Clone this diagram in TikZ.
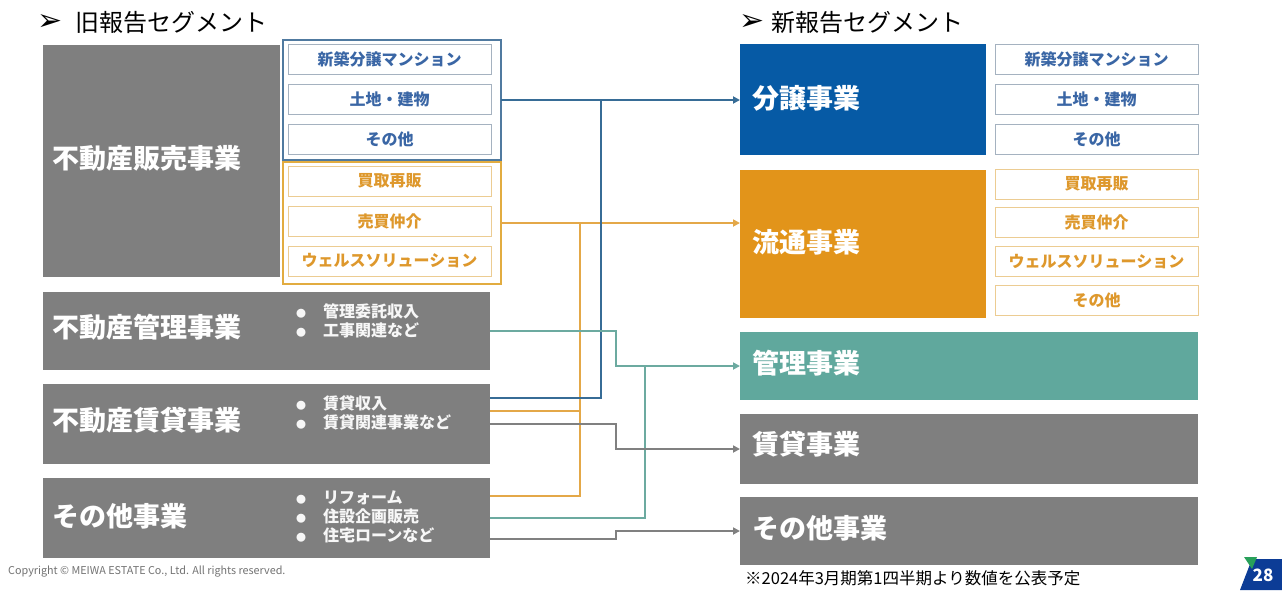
\documentclass[tikz,border=0pt]{standalone}
\usepackage{fontspec}
\setmainfont{Noto Sans CJK JP}
\newfontfamily\jp{Noto Sans CJK JP}
\newfontfamily\dvs{DejaVu Sans}
\usetikzlibrary{arrows.meta,calc}
\definecolor{grayfill}{RGB}{127,127,127}
\definecolor{bunjoblue}{RGB}{6,90,165}
\definecolor{ryuorange}{RGB}{226,148,26}
\definecolor{kanriteal}{RGB}{96,168,157}
\definecolor{blueline}{RGB}{55,108,150}
\definecolor{orangeline}{RGB}{228,168,72}
\definecolor{tealline}{RGB}{108,170,160}
\definecolor{grayline}{RGB}{128,128,128}
\definecolor{bluegrp}{RGB}{80,122,160}
\definecolor{orangegrp}{RGB}{226,172,64}
\definecolor{bluesubdraw}{RGB}{165,178,192}
\definecolor{orangesubdraw}{RGB}{236,204,146}
\definecolor{bluetext}{RGB}{58,102,165}
\definecolor{orangetext}{RGB}{222,152,44}
\definecolor{badgeblue}{RGB}{12,60,150}
\definecolor{badgegreen}{RGB}{40,160,90}
\newcommand{\blt}{\makebox[27pt][l]{\fontsize{10}{10}\selectfont ●}}
\begin{document}
\begin{tikzpicture}[x=1pt,y=-1pt,
  rbox/.style={inner sep=0pt,outer sep=0pt},
  graybox/.style={rbox,fill=grayfill},
  bigtext/.style={inner sep=0pt,anchor=west,text=white,font=\jp\bfseries\fontsize{27}{30}\selectfont},
  subblue/.style={rbox,draw=bluesubdraw,line width=1pt,fill=white,minimum width=203,minimum height=30,text=bluetext,font=\jp\bfseries\fontsize{16}{18}\selectfont},
  suborange/.style={rbox,draw=orangesubdraw,line width=1pt,fill=white,minimum width=203,minimum height=30,text=orangetext,font=\jp\bfseries\fontsize{16}{18}\selectfont},
  bul/.style={inner sep=0pt,anchor=west,align=left,text=white!94!gray,font=\jp\bfseries\fontsize{16}{19}\selectfont},
  conn/.style={line width=1.8pt},
  arr/.style={-{Triangle[length=7pt,width=7pt]}},
  titletext/.style={inner sep=0pt,anchor=west,font=\jp\fontsize{24}{28}\selectfont},
  arrowmark/.style={inner sep=0pt,anchor=center,font=\dvs\fontsize{30}{32}\selectfont}
]
\useasboundingbox[fill=white] (0,0) rectangle (1282,590);

% titles
\node[arrowmark] (am1) at (50,22) {➢};
\node[titletext] (title1) at (75,22) {旧報告セグメント};
\node[arrowmark] (am2) at (752,22) {➢};
\node[titletext] (title2) at (771,22) {新報告セグメント};

% left side
\node[graybox,minimum width=237,minimum height=232] (box1) at (161.5,161) {};
\node[bigtext] (t1) at (52,158) {不動産販売事業};

\node[rbox,draw=bluegrp,line width=1.5pt,minimum width=218,minimum height=120] (bgrp) at (392,100) {};
\node[subblue] (lb1) at (389.5,59) {新築分譲マンション};
\node[subblue] (lb2) at (389.5,99) {土地・建物};
\node[subblue] (lb3) at (389.5,139) {その他};

\node[rbox,draw=orangegrp,line width=1.5pt,minimum width=218,minimum height=122] (ogrp) at (392,223) {};
\node[suborange] (lo1) at (389.5,181) {買取再販};
\node[suborange] (lo2) at (389.5,221) {売買仲介};
\node[suborange] (lo3) at (389.5,261) {ウェルスソリューション};

\node[graybox,minimum width=447,minimum height=78] (box2) at (266.5,331) {};
\node[bigtext] (t2) at (52,327) {不動産管理事業};
\node[bul] (b2) at (296,320.5) {\blt 管理委託収入\\\blt 工事関連など};

\node[graybox,minimum width=447,minimum height=80] (box3) at (266.5,424) {};
\node[bigtext] (t3) at (52,420) {不動産賃貸事業};
\node[bul] (b3) at (296,412.5) {\blt 賃貸収入\\\blt 賃貸関連事業など};

\node[graybox,minimum width=447,minimum height=80] (box4) at (266.5,518) {};
\node[bigtext] (t4) at (52,516) {その他事業};
\node[bul] (b4) at (296,517) {\blt リフォーム\\\blt 住設企画販売\\\blt 住宅ローンなど};

% right side
\node[rbox,fill=bunjoblue,minimum width=246,minimum height=111] (bunjo) at (863,99.5) {};
\node[bigtext] (tb) at (752,98) {分譲事業};
\node[subblue] (rb1) at (1096.5,59) {新築分譲マンション};
\node[subblue] (rb2) at (1096.5,99) {土地・建物};
\node[subblue] (rb3) at (1096.5,139) {その他};

\node[rbox,fill=ryuorange,minimum width=246,minimum height=148] (ryutsu) at (863,244) {};
\node[bigtext] (tr) at (752,242) {流通事業};
\node[suborange] (ro1) at (1096.5,184) {買取再販};
\node[suborange] (ro2) at (1096.5,222) {売買仲介};
\node[suborange] (ro3) at (1096.5,261.5) {ウェルスソリューション};
\node[suborange] (ro4) at (1096.5,300.5) {その他};

\node[rbox,fill=kanriteal,minimum width=458,minimum height=68] (kanri) at (969,366) {};
\node[bigtext] (tk) at (752,363) {管理事業};
\node[graybox,minimum width=458,minimum height=70] (chintai) at (969,449) {};
\node[bigtext] (tc) at (752,444) {賃貸事業};
\node[graybox,minimum width=458,minimum height=68] (sonota) at (969,531) {};
\node[bigtext] (ts) at (752,528) {その他事業};

% junction x positions
\coordinate (xo) at (580,0);
\coordinate (xb) at (601,0);
\coordinate (xg) at (616,0);
\coordinate (xt) at (645,0);

% connectors
\draw[conn,orangeline] ($(box3.north east)+(0,27)$) -| (xo |- ogrp.east);
\draw[conn,orangeline] ($(box4.north east)+(0,18)$) -| (xo |- ogrp.east);
\draw[conn,orangeline,arr] (ogrp.east) -- (ogrp.east -| ryutsu.west);
\draw[conn,blueline] ($(box3.north east)+(0,14)$) -| (xb |- bgrp.east);
\draw[conn,blueline,arr] (bgrp.east) -- (bgrp.east -| bunjo.west);
\draw[conn,tealline] (box4.east) -| (xt |- kanri.west);
\draw[conn,tealline,arr] (box2.east) -| (xg |- kanri.west) -- (kanri.west);
\draw[conn,grayline,arr] (box3.east) -| (xg |- chintai.west) -- (chintai.west);
\draw[conn,grayline,arr] ($(box4.north east)+(0,61)$) -| (xg |- sonota.west) -- (sonota.west);

% footer
\node[inner sep=0pt,anchor=west,text=black!55,font=\jp\fontsize{10.8}{12}\selectfont] (copy) at (8,572) {Copyright © MEIWA ESTATE Co., Ltd. All rights reserved.};
\node[inner sep=0pt,anchor=west,font=\jp\fontsize{16.5}{19}\selectfont] (note) at (745,578) {※2024年3月期第1四半期より数値を公表予定};
\fill[badgeblue] (1252,559) -- (1282,559) -- (1282,590) -- (1240,590) -- cycle;
\fill[badgegreen] (1244,557) -- (1257,557) -- (1252,569) -- cycle;
\node[inner sep=0pt,text=white,font=\jp\bfseries\fontsize{17}{20}\selectfont] (pnum) at (1263,575) {28};
\end{tikzpicture}
\end{document}
